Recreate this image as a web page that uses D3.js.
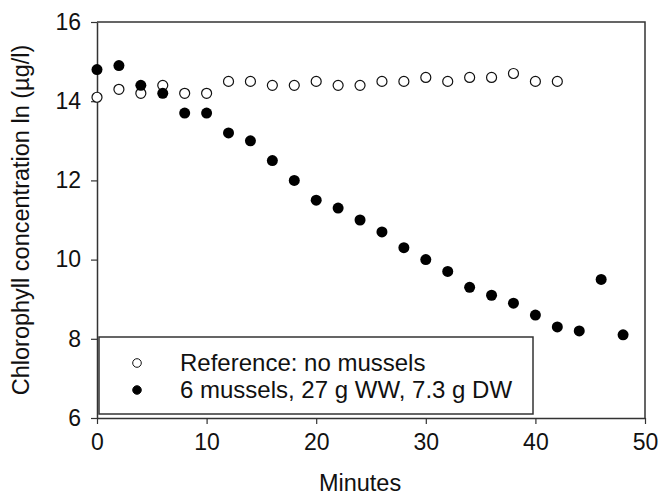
<!DOCTYPE html>
<html>
<head>
<meta charset="utf-8">
<script src="https://cdn.jsdelivr.net/npm/d3@7"></script>
<style>
    body { margin: 0; background: #fff; }
    svg { font-family: "Liberation Sans", Arial, sans-serif; }
</style>
</head>
<body>
<div id="chart"></div>
<script>
// chart data
const minutes = [0, 2, 4, 6, 8, 10, 12, 14, 16, 18, 20, 22, 24, 26, 28, 30, 32, 34, 36, 38, 40, 42, 44, 46, 48];
const referenceValues = [14.1, 14.3, 14.2, 14.4, 14.2, 14.2, 14.5, 14.5, 14.4, 14.4, 14.5, 14.4, 14.4, 14.5, 14.5, 14.6, 14.5, 14.6, 14.6, 14.7, 14.5, 14.5];
const musselValues = [14.8, 14.9, 14.4, 14.2, 13.7, 13.7, 13.2, 13.0, 12.5, 12.0, 11.5, 11.3, 11.0, 10.7, 10.3, 10.0, 9.7, 9.3, 9.1, 8.9, 8.6, 8.3, 8.2, 9.5, 8.1];
const xTicks = [0, 10, 20, 30, 40, 50];
const yTicks = [6, 8, 10, 12, 14, 16];
const legendLabels = ["Reference: no mussels", "6 mussels, 27 g WW, 7.3 g DW"];

const width = 660, height = 496;
const margin = { top: 22, right: 15, bottom: 78, left: 97 };

const svg = d3.select("#chart").append("svg")
    .attr("width", width)
    .attr("height", height);

const x = d3.scaleLinear().domain([0, 50]).range([margin.left, width - margin.right]);
const y = d3.scaleLinear().domain([6, 16]).range([height - margin.bottom, margin.top]);

// frame (top and right)
svg.append("path")
    .attr("d", `M${x(0)},${y(16)}H${x(50)}V${y(6)}`)
    .attr("fill", "none")
    .attr("stroke", "#333")
    .attr("stroke-width", 1.5);

// axes
const xAxis = svg.append("g")
    .attr("transform", `translate(0,${y(6)})`)
    .call(d3.axisBottom(x).tickValues(xTicks).tickSize(6).tickSizeOuter(0).tickPadding(10));

const yAxis = svg.append("g")
    .attr("transform", `translate(${x(0)},0)`)
    .call(d3.axisLeft(y).tickValues(yTicks).tickSize(6).tickSizeOuter(0).tickPadding(10));

[xAxis, yAxis].forEach(function(ax) {
    ax.select(".domain").attr("stroke", "#333").attr("stroke-width", 1.5);
    ax.selectAll(".tick line").attr("stroke", "#333").attr("stroke-width", 1.2);
    ax.selectAll(".tick text")
        .attr("fill", "#111")
        .style("font-size", "23px")
        .style("font-family", "Liberation Sans, Arial, sans-serif");
});

// axis titles
svg.append("text")
    .attr("x", x(24))
    .attr("y", 491)
    .attr("text-anchor", "middle")
    .style("font-size", "23.5px")
    .attr("fill", "#111")
    .text("Minutes");

svg.append("text")
    .attr("transform", `translate(29,${y(11)}) rotate(-90)`)
    .attr("text-anchor", "middle")
    .style("font-size", "23.5px")
    .attr("fill", "#111")
    .text("Chlorophyll concentration ln (µg/l)");

// legend box
const legend = svg.append("g");
legend.append("rect")
    .attr("x", 99)
    .attr("y", 337)
    .attr("width", 434)
    .attr("height", 77)
    .attr("fill", "#fff")
    .attr("stroke", "#333")
    .attr("stroke-width", 1.5);

// data points
svg.append("g").selectAll("circle")
    .data(referenceValues)
    .join("circle")
    .attr("cx", (d, i) => x(minutes[i]))
    .attr("cy", d => y(d))
    .attr("r", 5)
    .attr("fill", "#fff")
    .attr("stroke", "#111")
    .attr("stroke-width", 1.2);

svg.append("g").selectAll("circle")
    .data(musselValues)
    .join("circle")
    .attr("cx", (d, i) => x(minutes[i]))
    .attr("cy", d => y(d))
    .attr("r", 5.5)
    .attr("fill", "#000");

// legend entries
legendLabels.forEach(function(label, i) {
    const ly = 363 + i * 27;
    legend.append("circle")
        .attr("cx", 137)
        .attr("cy", ly)
        .attr("r", 4.3)
        .attr("fill", i === 0 ? "#fff" : "#000")
        .attr("stroke", "#111")
        .attr("stroke-width", 1);
    legend.append("text")
        .attr("x", 180)
        .attr("y", ly + 8)
        .style("font-size", "24px")
        .attr("fill", "#111")
        .text(label);
});
</script>
</body>
</html>
